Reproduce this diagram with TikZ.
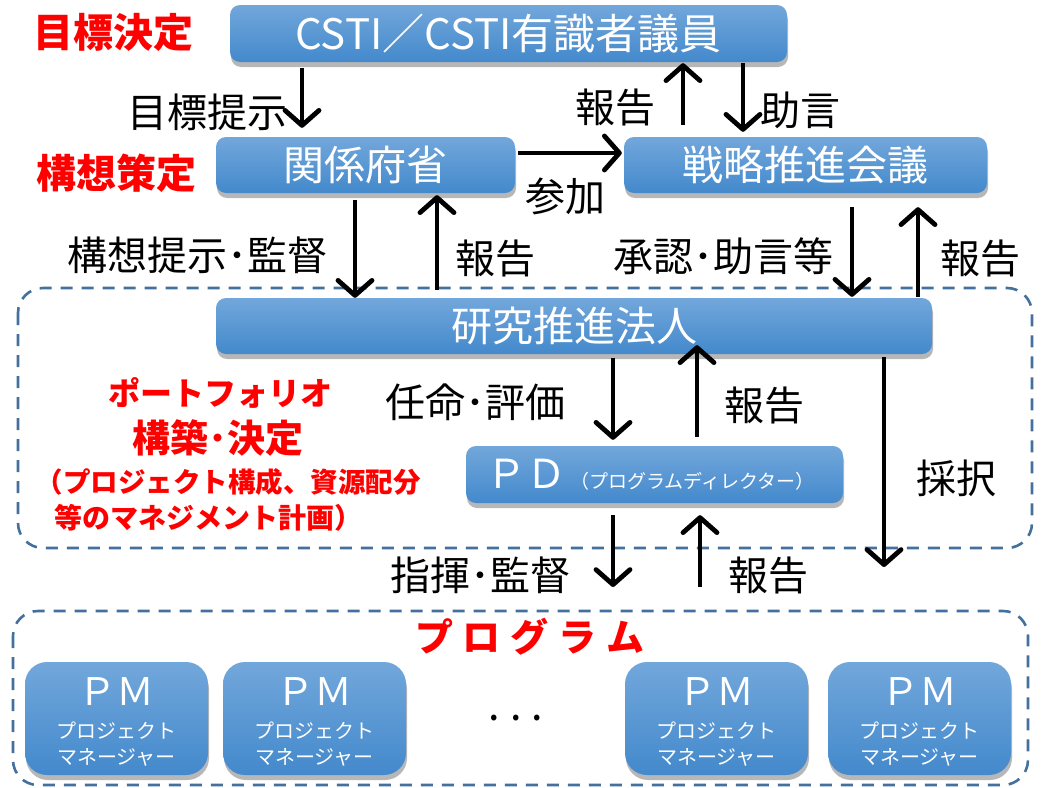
\documentclass[tikz,border=0pt]{standalone}
\usepackage{fontspec}
\setmainfont{Noto Sans CJK JP}
\usetikzlibrary{arrows.meta,shadows}
\definecolor{boxtop}{HTML}{72A7DB}
\definecolor{boxbot}{HTML}{4389CC}
\definecolor{dashc}{HTML}{44709E}
\definecolor{redt}{HTML}{FF0000}
\newcommand{\fs}[1]{\fontsize{#1}{#1}\selectfont}
\tikzset{
  bluebox/.style={draw=none, top color=boxtop, bottom color=boxbot, rounded corners=10pt,
    text=white, inner sep=0pt, align=center,
    drop shadow={shadow xshift=1pt, shadow yshift=-5pt, opacity=0.35, fill=black!80}},
  pmbox/.style={bluebox, rounded corners=22pt, minimum width=183pt, minimum height=113pt},
  arr/.style={line width=4.8pt, -{Straight Barb[round,length=15pt,width=34pt]}},
  lbl/.style={font=\fs{40}, text=black, inner sep=0pt},
  redlbl/.style={text=redt, inner sep=0pt}
}
\tikzset{region/.style={draw=dashc, line width=2.6pt, dash pattern=on 12pt off 9pt, rounded corners=25pt}}
\begin{document}
\begin{tikzpicture}[x=1pt,y=-1pt]
\fill[white] (0,0) rectangle (1041,787);
\useasboundingbox (0,0) rectangle (1041,787);

% regions
\draw[region] (18,288) rectangle (1032,548);
\draw[region] (13,611) rectangle (1028,785);

% boxes
\node[bluebox, minimum width=557pt, minimum height=57pt, font=\fs{42}] (csti) at (508.5,33.5) {CSTI／CSTI有識者議員};
\node[bluebox, minimum width=299pt, minimum height=56pt, font=\fs{41}] (kankei) at (365.5,165) {関係府省};
\node[bluebox, minimum width=363pt, minimum height=56pt, font=\fs{41}] (senryaku) at (805.5,165) {戦略推進会議};
\node[bluebox, minimum width=716pt, minimum height=56pt, font=\fs{41}] (hojin) at (574,326) {研究推進法人};
\node[bluebox, minimum width=377pt, minimum height=57pt] (pd) at (654.5,474.5) {\hspace{-8pt}{\fs{40}ＰＤ}\hspace{4pt}{\fs{19}（プログラムディレクター）}};

\node[pmbox] (pm1) at (116.5,718.5) {};
\node[pmbox] (pm2) at (314.5,718.5) {};
\node[pmbox] (pm3) at (716.5,718.5) {};
\node[pmbox] (pm4) at (919.5,718.5) {};
\foreach \p in {pm1,pm2,pm3,pm4}{
  \node[text=white, font=\fs{38}, inner sep=0pt] (\p t1) at ([yshift=27pt]\p.center) {ＰＭ};
  \node[text=white, font=\fs{20}, inner sep=0pt] (\p t2) at ([yshift=-12pt]\p.center) {プロジェクト};
  \node[text=white, font=\fs{20}, inner sep=0pt] (\p t3) at ([yshift=-39pt]\p.center) {マネージャー};
}
\node[font=\fs{22}, inner sep=0pt] (dots) at (516,720) {•\hspace{14pt}•\hspace{14pt}•};

% arrows
\draw[arr, shorten <=6pt, shorten >=9pt] (csti.south -| 302,0) -- (kankei.north -| 302,0);
\draw[arr, shorten <=12pt, shorten >=1pt] (senryaku.north -| 683,0) -- (csti.south -| 683,0);
\draw[arr, shorten <=1pt, shorten >=5pt] (csti.south -| 743,0) -- (senryaku.north -| 743,0);
\draw[arr, shorten <=3pt, shorten >=2pt] (kankei.east |- 0,153) -- (senryaku.west |- 0,153);
\draw[arr, shorten <=7pt, shorten >=0pt] (kankei.south -| 355,0) -- (hojin.north -| 355,0);
\draw[arr, shorten <=8pt, shorten >=2pt] (hojin.north -| 437,0) -- (kankei.south -| 437,0);
\draw[arr, shorten <=14pt, shorten >=1pt] (senryaku.south -| 852,0) -- (hojin.north -| 852,0);
\draw[arr, shorten <=1pt, shorten >=14pt] (hojin.north -| 918,0) -- (senryaku.south -| 918,0);
\draw[arr, shorten <=4pt, shorten >=6pt] (hojin.south -| 613,0) -- (pd.north -| 613,0);
\draw[arr, shorten <=9pt, shorten >=-9pt] (pd.north -| 697,0) -- (hojin.south -| 697,0);
\coordinate (saitaku) at (884,567);
\draw[arr, shorten <=3pt] (hojin.south -| 884,0) -- (saitaku);
\coordinate (shiki) at (613,587);
\coordinate (hokoku5) at (700,587);
\draw[arr, shorten <=12pt] (pd.south -| 613,0) -- (shiki);
\draw[arr, shorten >=12pt] (hokoku5) -- (pd.south -| 700,0);

% labels
\node[lbl] (l1) at (207,112) {目標提示};
\node[lbl] (l2) at (615,107) {報告};
\node[lbl] (l3) at (800,110) {助言};
\node[lbl] (l4) at (565,196) {参加};
\node[lbl] (l5) at (197,255) {構想提示･監督};
\node[lbl] (l6) at (495,258) {報告};
\node[lbl] (l7) at (723,256) {承認･助言等};
\node[lbl] (l8) at (980,258) {報告};
\node[lbl] (l9) at (475,402) {任命･評価};
\node[lbl] (l10) at (764,405) {報告};
\node[lbl] (l11) at (956,478) {採択};
\node[lbl] (l12) at (480,575) {指揮･監督};
\node[lbl] (l13) at (768,575) {報告};

% red labels
\node[redlbl, font=\fs{40}\bfseries] (r1) at (113,32) {目標決定};
\node[redlbl, font=\fs{40}\bfseries] (r2) at (116,173) {構想策定};
\node[redlbl, font=\fs{32}\bfseries] (r3) at (220,393) {ポートフォリオ};
\node[redlbl, font=\fs{38}\bfseries] (r4) at (218,438) {構築･決定};
\node[redlbl, font=\fs{27.5}\bfseries] (r5) at (228,482) {（プロジェクト構成、資源配分};
\node[redlbl, font=\fs{28}\bfseries] (r6) at (208,518) {等のマネジメント計画）};
\node[redlbl, font=\fs{38}\bfseries] (r7) at (530,637) {プ\hspace{10pt}ロ\hspace{10pt}グ\hspace{10pt}ラ\hspace{10pt}ム};
\end{tikzpicture}
\end{document}
